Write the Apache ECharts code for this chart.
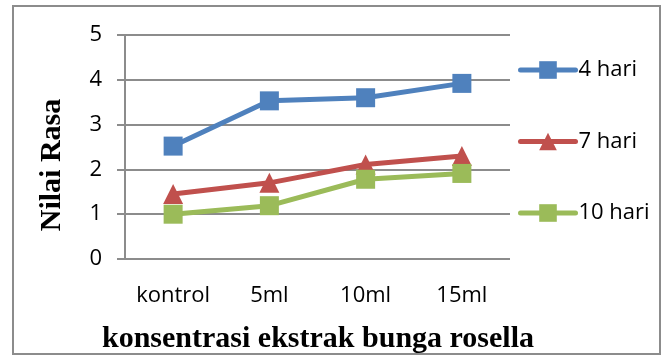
<!DOCTYPE html>
<html>
<head>
<meta charset="utf-8">
<script src="https://cdn.jsdelivr.net/npm/echarts@6/dist/echarts.min.js"></script>
<style>
html,body{margin:0;padding:0;background:#fff;}
#chart{width:667px;height:356px;}
</style>
</head>
<body>
<div id="chart"></div>
<script>
var categories = ['kontrol', '5ml', '10ml', '15ml'];
var hari4 = [2.52, 3.53, 3.60, 3.92];
var hari7 = [1.45, 1.70, 2.11, 2.30];
var hari10 = [1.00, 1.19, 1.78, 1.91];
var seriesNames = ['4 hari', '7 hari', '10 hari'];
var yTitle = 'Nilai Rasa';
var xTitle = 'konsentrasi ekstrak bunga rosella';

var chart = echarts.init(document.getElementById('chart'), null, {renderer: 'canvas'});
var sansFont = '"Open Sans", "Liberation Sans", sans-serif';
var serifFont = '"Liberation Serif", "DejaVu Serif", serif';

function mk(name, data, color, symbol, size) {
  return {
    name: name, type: 'line', data: data,
    symbol: symbol, symbolSize: size,
    lineStyle: {color: color, width: 5},
    itemStyle: {color: color},
    emphasis: {disabled: true},
    animation: false
  };
}

chart.setOption({
  animation: false,
  backgroundColor: '#fff',
  grid: {left: 125, right: 157, top: 35, bottom: 97, containLabel: false},
  legend: {
    orient: 'vertical', left: 518, top: 59, padding: 0,
    itemWidth: 55, itemHeight: 22, itemGap: 49.5,
    lineStyle: {width: 5, cap: 'round'},
    textStyle: {fontSize: 22, color: '#000', fontFamily: sansFont, padding: [0, 0, 0, -2]},
    data: seriesNames
  },
  xAxis: {
    type: 'category', data: categories, boundaryGap: true,
    axisLine: {show: false},
    axisTick: {show: false},
    axisLabel: {fontSize: 22, color: '#000', fontFamily: sansFont, margin: 26}
  },
  yAxis: {
    type: 'value', min: 0, max: 5, interval: 1,
    axisLine: {show: true, lineStyle: {color: '#8c8c8c', width: 2}},
    axisTick: {show: true, length: 8, lineStyle: {color: '#8c8c8c', width: 2}},
    splitLine: {show: true, lineStyle: {color: '#8c8c8c', width: 2}},
    axisLabel: {fontSize: 22, color: '#000', fontFamily: sansFont, margin: 23}
  },
  series: [
    mk(seriesNames[0], hari4, '#4F81BD', 'rect', 19),
    mk(seriesNames[1], hari7, '#C0504D', 'triangle', 20),
    mk(seriesNames[2], hari10, '#9BBB59', 'rect', 19)
  ],
  graphic: [
    {type: 'rect', shape: {x: 13, y: 6, width: 647, height: 348},
     style: {fill: 'none', stroke: '#8c8c8c', lineWidth: 2}, silent: true},
    {type: 'text', x: 52, y: 165, rotation: Math.PI / 2,
     style: {text: yTitle, font: 'bold 30px ' + serifFont, fill: '#000', align: 'center', verticalAlign: 'middle'}},
    {type: 'text', x: 318, y: 339,
     style: {text: xTitle, font: 'bold 30px ' + serifFont, fill: '#000', align: 'center', verticalAlign: 'middle'}}
  ]
});
</script>
</body>
</html>
